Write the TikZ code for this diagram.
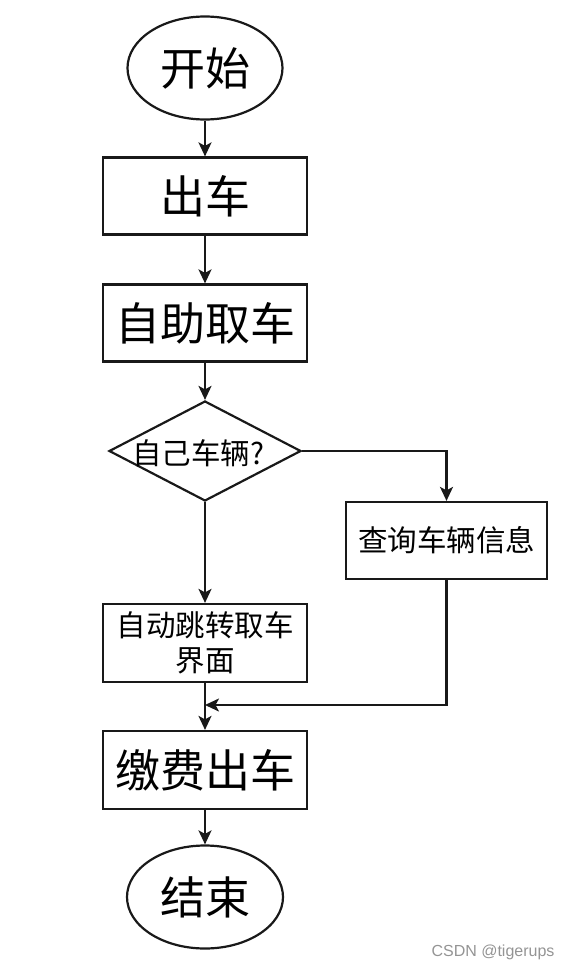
\documentclass[tikz,border=0pt]{standalone}
\usepackage{fontspec}
\newfontfamily\cjk{Noto Sans CJK SC}
\newfontfamily\wmfont{Liberation Sans}
\usetikzlibrary{shapes.geometric,arrows.meta}
\begin{document}
\begin{tikzpicture}[x=1pt,y=-1pt,
  base/.style={draw=black!90,line width=2.2pt,inner sep=0pt,align=center},
  term/.style={base,ellipse,minimum width=155pt,minimum height=103pt,font=\cjk\fontsize{45}{50}\selectfont},
  bigbox/.style={base,rectangle,minimum width=204pt,minimum height=77pt,font=\cjk\fontsize{45}{50}\selectfont},
  smallbox/.style={base,rectangle,minimum width=204pt,minimum height=77pt,font=\cjk\fontsize{29.5}{35}\selectfont},
  dec/.style={base,diamond,minimum width=192pt,minimum height=100pt},
  link/.style={line width=2.2pt,draw=black!90},
  arr/.style={link,-{Stealth[length=14pt,width=13pt,inset=3.5pt]}}]
\useasboundingbox (0,0) rectangle (576,972);
\node[term] (start) at (205,68) {开始};
\node[bigbox] (out) at (205,196) {出车};
\node[bigbox] (self) at (205,323) {自助取车};
\node[dec] (q) at (205,451) {};
\node[font=\cjk\fontsize{29.5}{35}\selectfont,inner sep=0pt] (qt) at (198,453) {自己车辆?};
\node[smallbox,minimum width=201pt] (look) at (446.5,540.5) {查询车辆信息};
\node[smallbox,minimum height=78pt] (auto) at (205,643) {自动跳转取车\\界面};
\node[bigbox,minimum height=78pt] (pay) at (205,770) {缴费出车};
\node[term,minimum width=156pt] (end) at (205,897) {结束};
\coordinate (join) at (205,705);
\node[font=\wmfont\fontsize{16}{18}\selectfont,text=black!42,inner sep=0pt] (wm) at (493,952) {CSDN @tigerups};
\draw[arr] (start) -- (out);
\draw[arr] (out) -- (self);
\draw[arr] (self) -- (q);
\draw[arr] (q.east) -| (look.north);
\draw[arr] (q.south) -- (auto.north);
\draw[arr] (auto.south) -- (pay.north);
\draw[arr] (look.south) |- (join);
\draw[arr] (pay) -- (end);
\end{tikzpicture}
\end{document}
